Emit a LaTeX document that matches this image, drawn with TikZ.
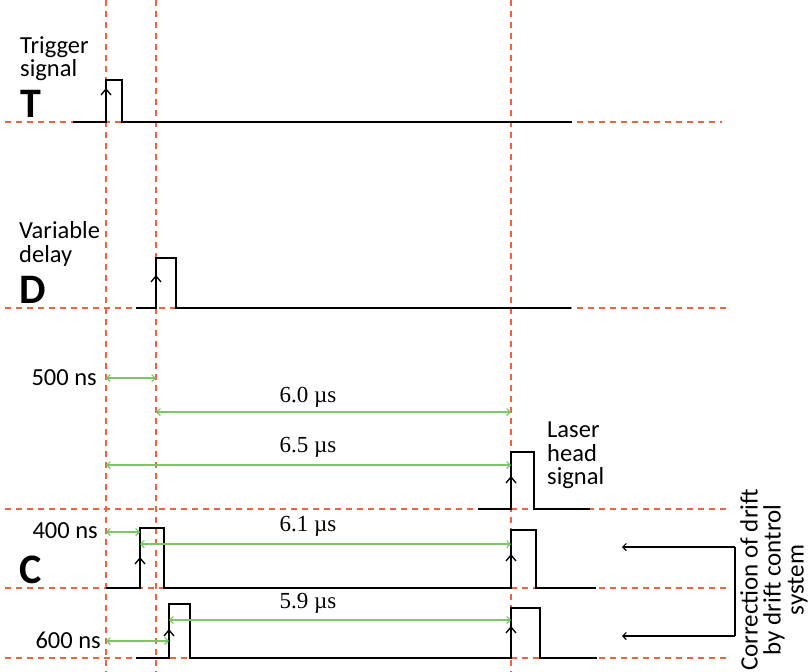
\documentclass[tikz,border=0pt]{standalone}
\usepackage{fontspec}
\setmainfont{Carlito}
\newfontfamily\seriffam{Liberation Serif}
\usetikzlibrary{arrows.meta}
\definecolor{guide}{RGB}{240,98,66}
\definecolor{meas}{RGB}{120,200,100}
\tikzset{
  x=1pt,y=-1pt,
  guideline/.style={guide,line width=1.4pt,dash pattern=on 6pt off 5pt},
  sig/.style={black,line width=1.9pt,line join=miter},
  chev/.style={black,line width=1.3pt},
  measure/.style={meas,line width=1.2pt,{Straight Barb[length=3.5pt,width=7pt]}-{Straight Barb[length=3.5pt,width=7pt]}},
  corr/.style={black,line width=1.2pt,-{Straight Barb[length=3.5pt,width=7pt]}},
  lab/.style={inner sep=0pt,font=\fontsize{24.5}{24.5}\selectfont},
  big/.style={inner sep=0pt,font=\fontsize{42}{42}\selectfont\bfseries},
  val/.style={inner sep=0pt,font=\seriffam\fontsize{23}{23}\selectfont},
}
\begin{document}
\begin{tikzpicture}
\useasboundingbox (0,0) rectangle (809,672);
% vertical guides
\foreach \x in {106,156,511} \draw[guideline] (\x,0) -- (\x,672);
% horizontal guides
\draw[guideline] (5,122) -- (722,122);
\draw[guideline] (5,308) -- (728,308);
\draw[guideline] (5,509) -- (727,509);
\draw[guideline] (5,588) -- (727,588);
\draw[guideline] (5,658) -- (727,658);
% signals
\draw[sig] (73,122) -- (106,122) -- (106,80) -- (122,80) -- (122,122) -- (572,122);
\draw[sig] (136,308) -- (156,308) -- (156,258) -- (176,258) -- (176,308) -- (571,308);
\draw[sig] (478,509) -- (511,509) -- (511,452) -- (534,452) -- (534,509) -- (590,509);
\draw[sig] (106,588) -- (140,588) -- (140,528) -- (164,528) -- (164,588) -- (511,588) -- (511,530) -- (536,530) -- (536,588) -- (596,588);
\draw[sig] (136,658) -- (169,658) -- (169,604) -- (190,604) -- (190,658) -- (511,658) -- (511,608) -- (540,608) -- (540,658) -- (597,658);
% rising-edge chevrons
\foreach \x/\y in {106/89,156/276,511/477,140/558,511/555,169/630,511/627}
  \draw[chev] (\x-5,\y+6) -- (\x,\y) -- (\x+5,\y+6);
% measurement coordinates
\coordinate (m1a) at (106,378); \coordinate (m1b) at (156,378);
\coordinate (m2a) at (156,412); \coordinate (m2b) at (511,412);
\coordinate (m3a) at (106,465); \coordinate (m3b) at (511,465);
\coordinate (m4a) at (106,532); \coordinate (m4b) at (140,532);
\coordinate (m5a) at (140,544); \coordinate (m5b) at (511,544);
\coordinate (m6a) at (169,620); \coordinate (m6b) at (511,620);
\coordinate (m7a) at (106,641); \coordinate (m7b) at (169,641);
\draw[measure] (m1a) -- (m1b);
\draw[measure] (m2a) -- (m2b);
\draw[measure] (m3a) -- (m3b);
\draw[measure] (m4a) -- (m4b);
\draw[measure] (m5a) -- (m5b);
\draw[measure] (m6a) -- (m6b);
\draw[measure] (m7a) -- (m7b);
% correction bracket
\coordinate (cr1) at (735,547); \coordinate (cr2) at (735,636);
\coordinate (ct1) at (622,547); \coordinate (ct2) at (622,636);
\draw[black,line width=1.2pt] (cr1) -- (cr2);
\draw[corr] (cr1) -- (ct1);
\draw[corr] (cr2) -- (ct2);
% labels
\node[lab,anchor=base west] (trig1) at (20,53) {Trigger};
\node[lab,anchor=base west] (trig2) at (20,76) {signal};
\node[big,anchor=base west] (tT) at (20,117) {T};
\node[lab,anchor=base west] (var1) at (19,238) {Variable};
\node[lab,anchor=base west] (var2) at (19,262) {delay};
\node[big,anchor=base west] (tD) at (19,303) {D};
\node[lab,anchor=base east] (l500) at (97,385) {500 ns};
\node[lab,anchor=base west] (las1) at (547,437) {Laser};
\node[lab,anchor=base west] (las2) at (547,461) {head};
\node[lab,anchor=base west] (las3) at (547,484) {signal};
\node[lab,anchor=base east] (l400) at (98,538) {400 ns};
\node[big,anchor=base west] (tC) at (19,583) {C};
\node[lab,anchor=base east] (l600) at (101,648) {600 ns};
\node[val,anchor=base] (v60) at (308,402) {6.0 µs};
\node[val,anchor=base] (v65) at (308,452) {6.5 µs};
\node[val,anchor=base] (v61) at (308,531) {6.1 µs};
\node[val,anchor=base] (v59) at (308,608) {5.9 µs};
\node[inner sep=0pt,rotate=90,align=center,font=\fontsize{25}{23}\selectfont] (corrtxt) at (774,580) {Correction of drift\\by drift control\\system};
\end{tikzpicture}
\end{document}
